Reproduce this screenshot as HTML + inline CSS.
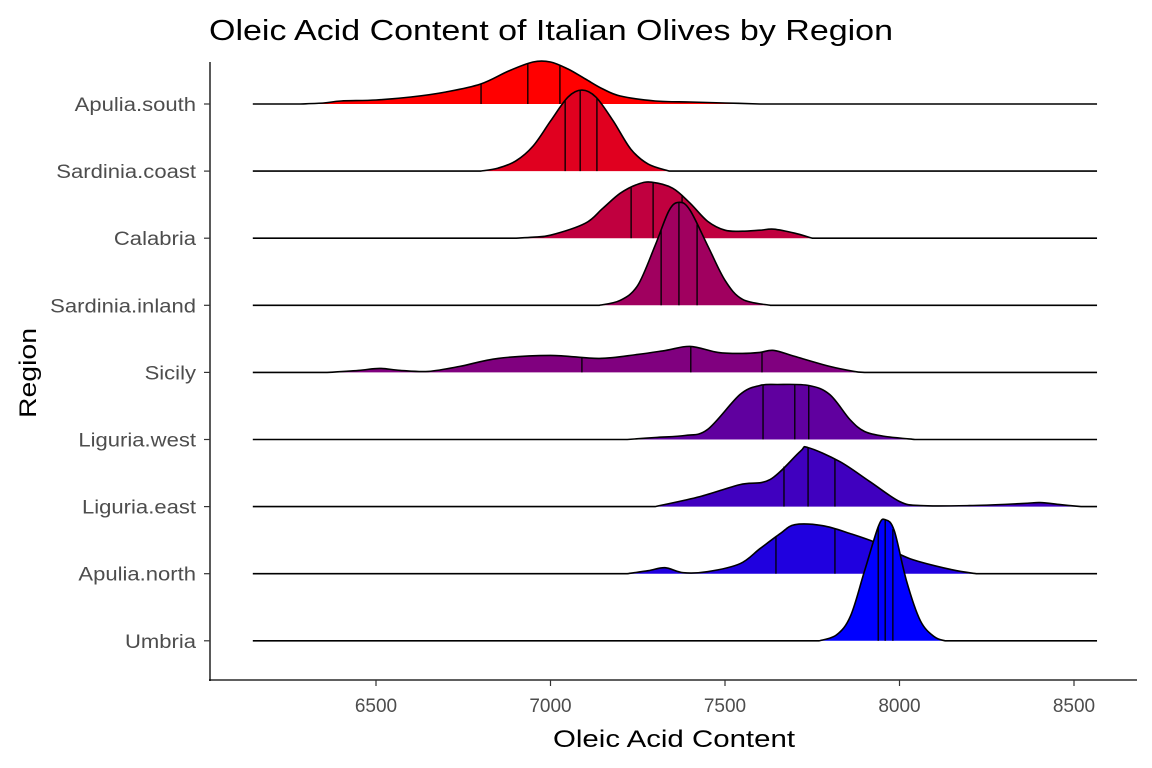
<!DOCTYPE html>
<html><head><meta charset="utf-8"><style>
html,body{margin:0;padding:0;background:#fff;}
svg{display:block;font-family:"Liberation Sans",Arial,sans-serif;}
</style></head><body>
<svg id="chart" width="1152" height="768" viewBox="0 0 1152 768">
<rect width="1152" height="768" fill="#fff"/>
<text x="209" y="40" font-size="29" textLength="684" lengthAdjust="spacingAndGlyphs" fill="#000">Oleic Acid Content of Italian Olives by Region</text>
<g id="ridges"></g>
<g id="axes"></g>
<text x="674" y="747" font-size="24" textLength="242" lengthAdjust="spacingAndGlyphs" text-anchor="middle" fill="#000">Oleic Acid Content</text>
<text transform="translate(36,373) rotate(-90)" font-size="24" textLength="90" lengthAdjust="spacingAndGlyphs" text-anchor="middle" fill="#000">Region</text>
</svg>
<script>
const regions = ["Apulia.south","Sardinia.coast","Calabria","Sardinia.inland","Sicily","Liguria.west","Liguria.east","Apulia.north","Umbria"];
const colors = ["#FF0000","#E0001F","#C0003F","#A0005F","#80007F","#60009F","#4000BF","#2000DF","#0000FF"];
const xTicks = [6500,7000,7500,8000,8500];
const densX = [
 [6280,6350,6400,6500,6600,6700,6800,6880,6950,7000,7050,7100,7150,7200,7300,7400,7500,7600],
 [6800,6850,6900,6950,7000,7050,7090,7130,7180,7230,7280,7340],
 [6900,6950,7000,7100,7150,7200,7250,7290,7350,7400,7450,7500,7550,7600,7640,7700,7750],
 [7140,7200,7250,7300,7340,7370,7400,7450,7500,7550,7630],
 [6360,6450,6510,6570,6650,6740,6850,7000,7140,7250,7330,7400,7480,7550,7600,7640,7700,7800,7870,7900],
 [7220,7300,7385,7450,7543,7600,7650,7740,7800,7858,7900,7960,8044],
 [7300,7428,7543,7629,7715,7738,7829,7915,8001,8060,8200,8350,8403,8460,8520],
 [7220,7280,7328,7380,7450,7543,7600,7658,7700,7780,7860,7940,8030,8150,8220],
 [7770,7820,7860,7900,7940,7960,7985,8020,8060,8100,8130]
];
const densH = [
 [0,1,3,4,7,12,20,33,42,42,35,25,15,8,3,2,1,0],
 [0,3,10,25,50,74,81,74,50,22,7,0],
 [0,1,3,15,30,45,54,56,50,35,17,8,7,8,9,5,0],
 [0,5,20,60,95,103,95,60,25,6,0],
 [0,2,4,2,1,6,14,17,14,18,22,26,20,19,20,22,16,6,1,0],
 [0,2,4,10,45,54,55,54,45,20,8,3,0],
 [0,10,22,27,55,59,45,25,5,1,1,3,4,2,0],
 [0,3,6,1,2,10,25,40,49,48,40,30,15,4,0],
 [0,6,25,70,115,121,110,60,20,4,0]
];
const quantiles = [
 [6801,6935,7027],[7042,7085,7133],[7231,7294,7377],[7317,7368,7420],
 [7090,7402,7606],[7609,7700,7740],[7669,7738,7815],[7646,7815,7960],[7939,7959,7981]
];
const baselines0 = 104, rowStep = 67.1;
function xs(v){return 376+(v-6500)*0.349;}
function ys(i){return baselines0+i*rowStep;}
const NS="http://www.w3.org/2000/svg";
function mk(tag,attrs,parent){const e=document.createElementNS(NS,tag);for(const k in attrs)e.setAttribute(k,attrs[k]);parent.appendChild(e);return e;}
function smooth(pts){
 let d="M"+pts[0][0]+","+pts[0][1];
 for(let i=0;i<pts.length-1;i++){
  const p0=pts[Math.max(0,i-1)],p1=pts[i],p2=pts[i+1],p3=pts[Math.min(pts.length-1,i+2)];
  const c1=[p1[0]+(p2[0]-p0[0])/6,p1[1]+(p2[1]-p0[1])/6];
  const c2=[p2[0]-(p3[0]-p1[0])/6,p2[1]-(p3[1]-p1[1])/6];
  d+=" C"+c1[0].toFixed(1)+","+c1[1].toFixed(1)+" "+c2[0].toFixed(1)+","+c2[1].toFixed(1)+" "+p2[0].toFixed(1)+","+p2[1].toFixed(1);
 }
 return d;
}
function interp(xa,ha,v){
 if(v<=xa[0]||v>=xa[xa.length-1])return 0;
 for(let i=0;i<xa.length-1;i++)if(v>=xa[i]&&v<=xa[i+1]){const t=(v-xa[i])/(xa[i+1]-xa[i]);return ha[i]+t*(ha[i+1]-ha[i]);}
 return 0;
}
const g=document.getElementById("ridges");
const xmin=6147,xmax=8566;
regions.forEach((r,i)=>{
 const b=ys(i);
 const grp=mk("g",{},g);
 
 
 const pts=densX[i].map((v,k)=>[xs(v),b-densH[i][k]]);
 const curve=smooth(pts);
 const area=mk("path",{d:curve+" L"+pts[pts.length-1][0]+","+b+" L"+pts[0][0]+","+b+" Z",fill:colors[i],stroke:"none"},grp);
 
 
 quantiles[i].forEach(q=>{
  const h=interp(densX[i],densH[i],q);
  const ln=mk("line",{x1:xs(q),x2:xs(q),y1:b,y2:b-h,stroke:"#000","stroke-width":1.3},grp);
  
  
 });
 const line=mk("path",{d:"M"+xs(xmin)+","+b+" L"+pts[0][0]+","+b+" "+curve.replace(/^M/,"L")+" L"+xs(xmax)+","+b,fill:"none",stroke:"#000","stroke-width":1.6},grp);
 
 
});
const ax=document.getElementById("axes");
const yl=mk("line",{x1:210,x2:210,y1:62,y2:681,stroke:"#000","stroke-width":1.3},ax);


const xl=mk("line",{x1:209,x2:1137,y1:680,y2:680,stroke:"#000","stroke-width":1.3},ax);


regions.forEach((r,i)=>{
 const t=mk("line",{x1:204,x2:210,y1:ys(i),y2:ys(i),stroke:"#333","stroke-width":1.2},ax);
 
 
 const tx=mk("text",{x:196,y:ys(i)+7,"font-size":19,"text-anchor":"end",fill:"#4d4d4d"},ax);
 tx.textContent=r;
 
 
 const w=tx.getComputedTextLength();
 tx.setAttribute("textLength",(w*1.16).toFixed(1));
 tx.setAttribute("lengthAdjust","spacingAndGlyphs");
});
xTicks.forEach(v=>{
 const t=mk("line",{x1:xs(v),x2:xs(v),y1:680,y2:686,stroke:"#333","stroke-width":1.2},ax);
 
 
 const tx=mk("text",{x:xs(v),y:712,"font-size":19,"text-anchor":"middle",fill:"#4d4d4d"},ax);
 tx.textContent=v;
 
 
});
</script>
</body></html>
